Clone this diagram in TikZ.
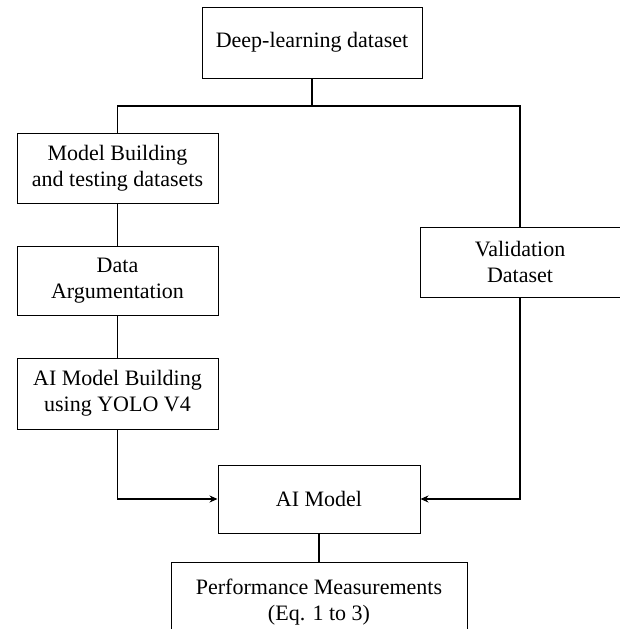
\documentclass[tikz,border=0pt]{standalone}
\usepackage{fontspec}
\setmainfont{Liberation Serif}
\usetikzlibrary{arrows.meta}

\tikzset{
    box/.style={draw, line width=1pt, inner sep=0pt, align=center,
        font=\fontsize{22}{26}\selectfont},
    link/.style={line width=1.5pt},
}

\begin{document}
\begin{tikzpicture}[x=1pt, y=-1pt, >={Stealth[length=8pt, width=7pt]}]
    \useasboundingbox (0,0) rectangle (619,629);

    % boxes
    \node[box, minimum width=220pt, minimum height=71pt] (deep) at (312,42.5) {Deep-learning dataset};
    \node[box, minimum width=201pt, minimum height=70pt] (build) at (117.5,168) {Model Building\\and testing datasets};
    \node[box, minimum width=201pt, minimum height=69pt] (augment) at (117.5,280.5) {Data\\Argumentation};
    \node[box, minimum width=201pt, minimum height=71pt] (yolo) at (117.5,393.5) {AI Model Building\\using YOLO V4};
    \node[box, minimum width=200pt, minimum height=70pt] (valid) at (520,262) {Validation\\Dataset};
    \node[box, minimum width=202pt, minimum height=68pt] (aimodel) at (319,499) {AI Model};
    \node[box, minimum width=296pt, minimum height=80pt] (perf) at (319,602) {Performance Measurements\\(Eq. 1 to 3)};

    % split point
    \coordinate (split) at (312,106);

    % connectors
    \draw[link] (deep) -- (split);
    \draw[link] (build) |- (split) -| (valid);
    \draw[link] (build) -- (augment);
    \draw[link] (augment) -- (yolo);
    \draw[link, ->] (yolo) |- (aimodel);
    \draw[link, ->] (valid) |- (aimodel);
    \draw[link] (aimodel) -- (perf);
\end{tikzpicture}
\end{document}
